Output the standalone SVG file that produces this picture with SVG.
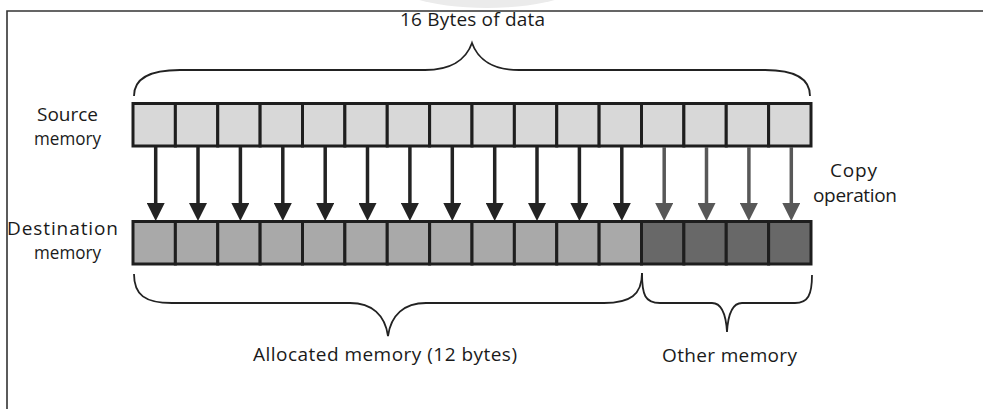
<svg xmlns="http://www.w3.org/2000/svg" width="983" height="409" viewBox="0 0 983 409">
<style>
  .lbl { font-family: "Open Sans", "Liberation Sans", sans-serif; font-size: 19px; fill: #1a1a1a; }
  .src { fill: #d8d8d8; stroke: #1e1e1e; stroke-width: 3; }
  .dst { fill: #a9a9a9; stroke: #1e1e1e; stroke-width: 3; }
  .oth { fill: #686868; stroke: #1e1e1e; stroke-width: 3; }
  .brace { fill: none; stroke: #222; stroke-width: 1.8; }
  .arr { stroke: #232323; stroke-width: 3.5; marker-end: url(#headDark); }
  .arr2 { stroke: #585858; stroke-width: 3.5; marker-end: url(#headGray); }
  .frame { fill: none; stroke: #333; stroke-width: 1.6; }
</style>
<defs>
  <marker id="headDark" markerUnits="userSpaceOnUse" markerWidth="18" markerHeight="18" viewBox="0 -9 18 18" refX="7" refY="0" orient="auto">
    <path d="M0,-9 L18,0 L0,9 z" fill="#232323"/>
  </marker>
  <marker id="headGray" markerUnits="userSpaceOnUse" markerWidth="18" markerHeight="18" viewBox="0 -9 18 18" refX="7" refY="0" orient="auto">
    <path d="M0,-9 L18,0 L0,9 z" fill="#585858"/>
  </marker>
</defs>
<rect width="983" height="409" fill="#ffffff"/>
<ellipse cx="487" cy="-26" rx="105" ry="34" fill="#ebebeb"/>
<path class="frame" d="M7,409 L7,11 L983,11"/>

<g id="title">
  <text class="lbl" x="400" y="26" textLength="145">16 Bytes of data</text>
  <path class="brace" d="M134,96 C134,78 150,70 180,70 L425,70 C450,70 466,60 472,43 C478,60 494,70 519,70 L765,70 C795,70 810,78 810,96"/>
</g>

<g id="source-label">
  <text class="lbl" x="37" y="121" textLength="61">Source</text>
  <text class="lbl" x="34" y="145" textLength="67" lengthAdjust="spacingAndGlyphs">memory</text>
</g>

<g id="source-memory">
  <rect class="src" x="133" y="103.5" width="42.375" height="42.5"/>
  <rect class="src" x="175.375" y="103.5" width="42.375" height="42.5"/>
  <rect class="src" x="217.75" y="103.5" width="42.375" height="42.5"/>
  <rect class="src" x="260.125" y="103.5" width="42.375" height="42.5"/>
  <rect class="src" x="302.5" y="103.5" width="42.375" height="42.5"/>
  <rect class="src" x="344.875" y="103.5" width="42.375" height="42.5"/>
  <rect class="src" x="387.25" y="103.5" width="42.375" height="42.5"/>
  <rect class="src" x="429.625" y="103.5" width="42.375" height="42.5"/>
  <rect class="src" x="472" y="103.5" width="42.375" height="42.5"/>
  <rect class="src" x="514.375" y="103.5" width="42.375" height="42.5"/>
  <rect class="src" x="556.75" y="103.5" width="42.375" height="42.5"/>
  <rect class="src" x="599.125" y="103.5" width="42.375" height="42.5"/>
  <rect class="src" x="641.5" y="103.5" width="42.375" height="42.5"/>
  <rect class="src" x="683.875" y="103.5" width="42.375" height="42.5"/>
  <rect class="src" x="726.25" y="103.5" width="42.375" height="42.5"/>
  <rect class="src" x="768.625" y="103.5" width="42.375" height="42.5"/>
</g>

<g id="connectors">
  <line class="arr" x1="155.7" y1="147" x2="155.7" y2="210"/>
  <line class="arr" x1="198" y1="147" x2="198" y2="210"/>
  <line class="arr" x1="240.4" y1="147" x2="240.4" y2="210"/>
  <line class="arr" x1="282.8" y1="147" x2="282.8" y2="210"/>
  <line class="arr" x1="325.2" y1="147" x2="325.2" y2="210"/>
  <line class="arr" x1="367.5" y1="147" x2="367.5" y2="210"/>
  <line class="arr" x1="409.9" y1="147" x2="409.9" y2="210"/>
  <line class="arr" x1="452.3" y1="147" x2="452.3" y2="210"/>
  <line class="arr" x1="494.7" y1="147" x2="494.7" y2="210"/>
  <line class="arr" x1="537" y1="147" x2="537" y2="210"/>
  <line class="arr" x1="579.4" y1="147" x2="579.4" y2="210"/>
  <line class="arr" x1="621.8" y1="147" x2="621.8" y2="210"/>
  <line class="arr2" x1="664.2" y1="147" x2="664.2" y2="210"/>
  <line class="arr2" x1="706.5" y1="147" x2="706.5" y2="210"/>
  <line class="arr2" x1="748.9" y1="147" x2="748.9" y2="210"/>
  <line class="arr2" x1="791.3" y1="147" x2="791.3" y2="210"/>
</g>

<g id="copy-label">
  <text class="lbl" x="830" y="177" textLength="47">Copy</text>
  <text class="lbl" x="813" y="202" textLength="84">operation</text>
</g>

<g id="destination-label">
  <text class="lbl" x="7" y="235" textLength="111">Destination</text>
  <text class="lbl" x="34" y="259" textLength="67" lengthAdjust="spacingAndGlyphs">memory</text>
</g>

<g id="destination-memory">
  <rect class="dst" x="133" y="221.5" width="42.375" height="42.5"/>
  <rect class="dst" x="175.375" y="221.5" width="42.375" height="42.5"/>
  <rect class="dst" x="217.75" y="221.5" width="42.375" height="42.5"/>
  <rect class="dst" x="260.125" y="221.5" width="42.375" height="42.5"/>
  <rect class="dst" x="302.5" y="221.5" width="42.375" height="42.5"/>
  <rect class="dst" x="344.875" y="221.5" width="42.375" height="42.5"/>
  <rect class="dst" x="387.25" y="221.5" width="42.375" height="42.5"/>
  <rect class="dst" x="429.625" y="221.5" width="42.375" height="42.5"/>
  <rect class="dst" x="472" y="221.5" width="42.375" height="42.5"/>
  <rect class="dst" x="514.375" y="221.5" width="42.375" height="42.5"/>
  <rect class="dst" x="556.75" y="221.5" width="42.375" height="42.5"/>
  <rect class="dst" x="599.125" y="221.5" width="42.375" height="42.5"/>
  <rect class="oth" x="641.5" y="221.5" width="42.375" height="42.5"/>
  <rect class="oth" x="683.875" y="221.5" width="42.375" height="42.5"/>
  <rect class="oth" x="726.25" y="221.5" width="42.375" height="42.5"/>
  <rect class="oth" x="768.625" y="221.5" width="42.375" height="42.5"/>
</g>

<g id="allocated">
  <path class="brace" d="M134,274 C134,295 145,303 172,303 L350,303 C372,303 385,315 388,336 C391,315 404,303 426,303 L604,303 C630,303 642,295 642,273"/>
  <text class="lbl" x="253" y="361" textLength="264">Allocated memory (12 bytes)</text>
</g>

<g id="other">
  <path class="brace" d="M642,273 C642,295 645,303 660,303 L712,303 C722,303 726,315 727,332 C728,315 732,303 742,303 L795,303 C808,303 812,295 812,275"/>
  <text class="lbl" x="662" y="362" textLength="135">Other memory</text>
</g>
</svg>
